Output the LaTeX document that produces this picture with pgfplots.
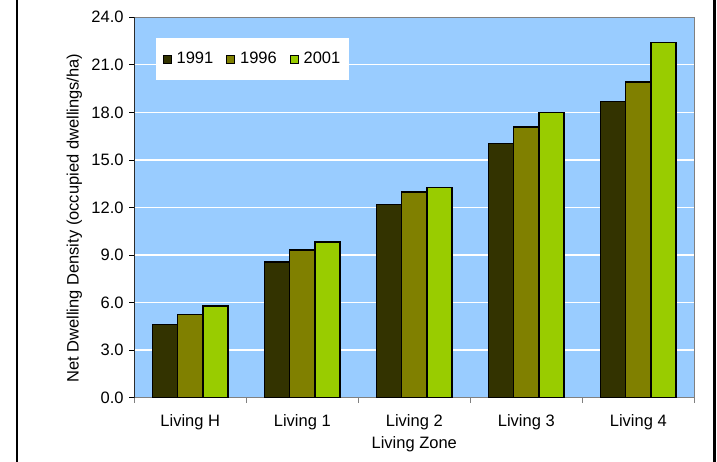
\documentclass[border=0pt]{standalone}
\usepackage{pgfplots}
\pgfplotsset{compat=1.18}
\usepackage{fontspec}
\setmainfont{Liberation Sans}
\definecolor{bgblue}{HTML}{99CCFF}
\definecolor{cA}{HTML}{333300}
\definecolor{cB}{HTML}{808000}
\definecolor{cC}{HTML}{99CC00}
\newcommand{\chartfont}{\fontsize{16.5}{19}\selectfont}
\begin{document}
\chartfont
\begin{tikzpicture}[font=\chartfont]
\useasboundingbox (0,0) rectangle (717pt,462pt);
\fill[black] (16pt,0) rectangle (18.4pt,462pt);
\fill[black] (713.3pt,0) rectangle (715.7pt,462pt);
\begin{axis}[
  at={(134.3pt,64.3pt)}, anchor=south west,
  scale only axis, width=560pt, height=380.4pt,
  ybar=0pt, bar width=25.2pt,
  xmin=-0.5, xmax=4.5, ymin=0, ymax=24,
  xtick={0,...,4},
  xticklabels={Living H, Living 1, Living 2, Living 3, Living 4},
  major x tick style={draw=none},
  minor xtick={-0.5,0.5,...,4.5},
  minor x tick style={draw=gray, line width=0.8pt},
  ytick={0,3,...,24},
  y tick style={draw=black, line width=0.8pt},
  xtick pos=bottom, ytick pos=left,
  tick align=outside, major tick length=5pt, minor tick length=5pt,
  ymajorgrids, grid style={white, line width=1.3pt},
  axis background/.style={fill=bgblue},
  axis line style={draw=gray, line width=0.8pt},
  /pgf/number format/assume math mode=true,
  every tick label/.append style={font=\chartfont},
  label style={font=\chartfont},
  yticklabel style={/pgf/number format/.cd, fixed, fixed zerofill, precision=1},
  xticklabel style={yshift=-6pt},
  ylabel={Net Dwelling Density (occupied dwellings/ha)},
  xlabel={Living Zone},
  xlabel style={at={(axis description cs:0.5,0)}, anchor=center, yshift=-47pt},
  ylabel style={at={(axis description cs:-0.107,0.472)}, anchor=center},
  legend columns=3,
  legend style={at={(rel axis cs:0.038,0.9456)}, anchor=north west,
    draw=none, fill=white, inner xsep=7pt, inner ysep=12pt, font=\chartfont,
    /tikz/every odd column/.append style={column sep=3pt},
    /tikz/every even column/.append style={column sep=11pt}},
  legend image code/.code={\draw[#1, line width=0.8pt] (0pt,-4pt) rectangle (8pt,4pt);},
  every axis plot/.append style={draw=black, line width=1.3pt},
]
\addplot[fill=cA] coordinates {(0,4.63) (1,8.56) (2,12.21) (3,16.05) (4,18.68)};
\addplot[fill=cB] coordinates {(0,5.24) (1,9.32) (2,12.97) (3,17.08) (4,19.92)};
\addplot[fill=cC] coordinates {(0,5.79) (1,9.82) (2,13.28) (3,17.98) (4,22.42)};
\legend{1991,1996,2001}
\draw[black, line width=1pt] (rel axis cs:0,0) -- (rel axis cs:0,1);
\end{axis}
\end{tikzpicture}
\end{document}
